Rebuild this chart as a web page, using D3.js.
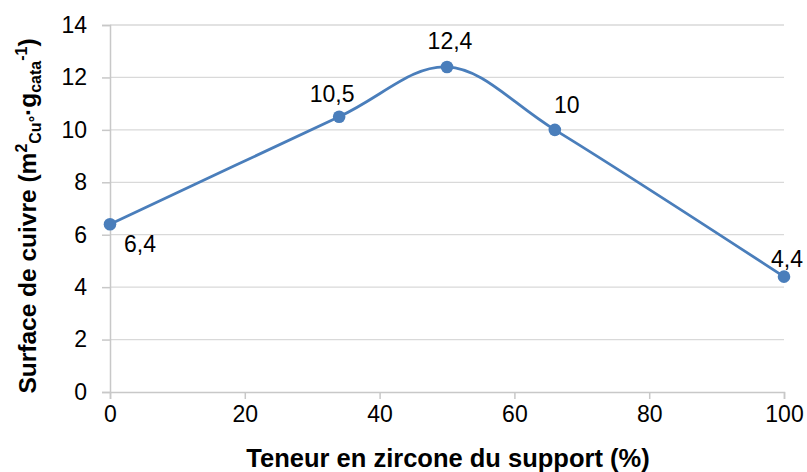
<!DOCTYPE html>
<html>
<head>
<meta charset="utf-8">
<script src="https://cdn.jsdelivr.net/npm/d3@7"></script>
<style>
  html, body { margin: 0; padding: 0; background: #fff; }
  svg { display: block; font-family: "Liberation Sans", Arial, sans-serif; }
</style>
</head>
<body>
<svg id="chart" width="807" height="472"></svg>
<script>
// Copper surface vs. zirconia content of the support
const zirconeContent = [0, 34, 50, 66, 100];
const copperSurface = [6.4, 10.5, 12.4, 10, 4.4];
const pointLabels = ["6,4", "10,5", "12,4", "10", "4,4"];
const xTicks = [0, 20, 40, 60, 80, 100];
const yTicks = [0, 2, 4, 6, 8, 10, 12, 14];

const svg = d3.select("#chart");
const margin = { left: 110, right: 23, top: 25, bottom: 80 };
const W = 807, H = 472;

const x = d3.scaleLinear().domain([0, 100]).range([margin.left, W - margin.right]);
const y = d3.scaleLinear().domain([0, 14]).range([H - margin.bottom, margin.top]);

// horizontal gridlines
svg.append("g")
  .selectAll("line")
  .data(yTicks.filter(d => d > 0))
  .join("line")
  .attr("x1", x(0)).attr("x2", x(100))
  .attr("y1", d => y(d)).attr("y2", d => y(d))
  .attr("stroke", "#d9d9d9").attr("stroke-width", 1.3);

// y axis
const yAxis = svg.append("g")
  .attr("transform", `translate(${x(0)},0)`)
  .call(d3.axisLeft(y).tickValues(yTicks).tickSize(8).tickPadding(15).tickFormat(d3.format("d")));
yAxis.select(".domain").attr("stroke", "#c8c8c8").attr("stroke-width", 1.5);
yAxis.selectAll(".tick line").attr("stroke", "#c8c8c8").attr("stroke-width", 1.5);
yAxis.selectAll(".tick text").attr("font-size", 23).attr("fill", "#000")
  .style("font-family", "Liberation Sans, Arial, sans-serif");

// x axis
const xAxis = svg.append("g")
  .attr("transform", `translate(0,${y(0)})`)
  .call(d3.axisBottom(x).tickValues(xTicks).tickSize(7).tickPadding(7).tickFormat(d3.format("d")));
xAxis.select(".domain").attr("stroke", "#c8c8c8").attr("stroke-width", 1.5);
xAxis.selectAll(".tick line").attr("stroke", "#c8c8c8").attr("stroke-width", 1.5);
xAxis.selectAll(".tick text").attr("font-size", 23).attr("fill", "#000")
  .style("font-family", "Liberation Sans, Arial, sans-serif");

// axis titles
svg.append("text")
  .attr("x", 448).attr("y", 467)
  .attr("text-anchor", "middle")
  .attr("font-size", 25.5).attr("font-weight", "bold")
  .text("Teneur en zircone du support (%)");

const yt = svg.append("text")
  .attr("transform", `translate(36,216) rotate(-90)`)
  .attr("text-anchor", "middle")
  .attr("font-size", 24.5).attr("font-weight", "bold");
yt.append("tspan").text("Surface de cuivre (m");
yt.append("tspan").attr("font-size", 16).attr("dy", -9).text("2");
yt.append("tspan").attr("font-size", 16).attr("dy", 14).text("Cu°");
yt.append("tspan").attr("dy", -5).text("·g");
yt.append("tspan").attr("font-size", 16).attr("dy", 5).text("cata");
yt.append("tspan").attr("font-size", 16).attr("dy", -14).text("-1");
yt.append("tspan").attr("dy", 9).text(")");

// smoothed series line
const data = zirconeContent.map((v, i) => ({ x: v, y: copperSurface[i], label: pointLabels[i] }));
const line = d3.line()
  .x(d => x(d.x)).y(d => y(d.y))
  .curve(d3.curveCatmullRom.alpha(0.5));

svg.append("path")
  .datum(data)
  .attr("d", line)
  .attr("fill", "none")
  .attr("stroke", "#4a7ebb")
  .attr("stroke-width", 2.8);

svg.append("g")
  .selectAll("circle")
  .data(data)
  .join("circle")
  .attr("cx", d => x(d.x)).attr("cy", d => y(d.y))
  .attr("r", 6.3)
  .attr("fill", "#4a7ebb");

// data labels
const labelOffsets = [[30, 28], [-7, -15], [3, -18], [12, -17], [3, -10]];
svg.append("g")
  .selectAll("text")
  .data(data)
  .join("text")
  .attr("x", (d, i) => x(d.x) + labelOffsets[i][0])
  .attr("y", (d, i) => y(d.y) + labelOffsets[i][1])
  .attr("text-anchor", "middle")
  .attr("font-size", 23)
  .attr("fill", "#000")
  .text(d => d.label);
</script>
</body>
</html>
